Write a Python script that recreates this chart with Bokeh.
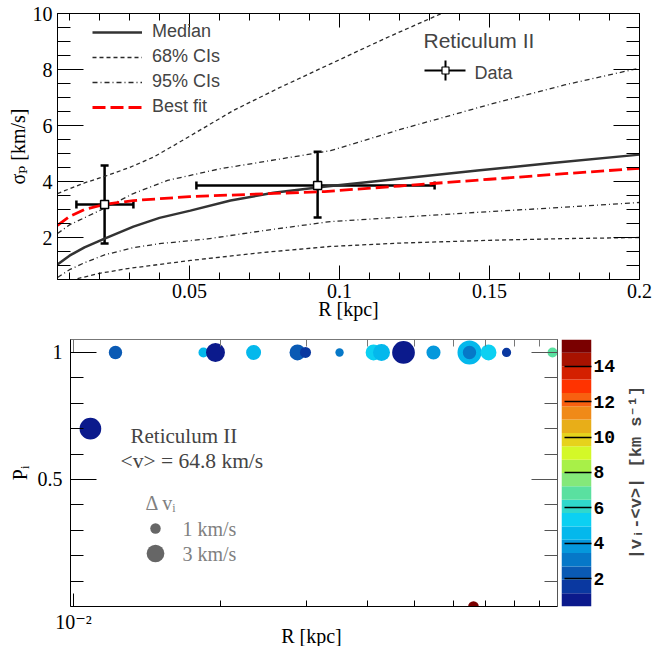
import numpy as np
from bokeh.plotting import figure
from bokeh.models import (ColumnDataSource, Range1d, LinearAxis, LogAxis, FixedTicker,
                          CustomJSTickFormatter, Whisker, TeeHead, Legend, LegendItem,
                          Label, LinearColorMapper, LinearScale)
from bokeh.layouts import column, row
from bokeh.embed import file_html
from bokeh.resources import INLINE

# ---------------- top panel: projected velocity dispersion ----------------
R_MED = [0.006, 0.01, 0.015, 0.0217, 0.0313, 0.04, 0.0503, 0.0637, 0.078, 0.094, 0.12, 0.146, 0.17, 0.2]
SIG_MED = [1.04, 1.35, 1.65, 1.96, 2.39, 2.70, 2.96, 3.32, 3.60, 3.80, 4.10, 4.39, 4.65, 4.96]
R_68U = [0.006, 0.015, 0.0217, 0.03, 0.038, 0.045, 0.0647, 0.08, 0.097, 0.115, 0.134, 0.15]
SIG_68U = [3.57, 3.95, 4.18, 4.50, 4.87, 5.30, 6.54, 7.35, 8.20, 9.10, 10.0, 10.7]
R_68L = [0.006, 0.0127, 0.02, 0.03, 0.0503, 0.075, 0.097, 0.12, 0.15, 0.175, 0.2]
SIG_68L = [0.30, 0.53, 0.72, 0.90, 1.18, 1.47, 1.68, 1.80, 1.90, 1.96, 2.00]
R_95U = [0.006, 0.01, 0.0217, 0.0313, 0.0427, 0.06, 0.08, 0.097, 0.12, 0.15, 0.175, 0.2]
SIG_95U = [2.14, 2.45, 3.05, 3.57, 4.04, 4.45, 4.80, 5.10, 5.85, 6.75, 7.45, 8.05]
R_95L = [0.006, 0.01, 0.015, 0.0217, 0.0313, 0.04, 0.056, 0.075, 0.097, 0.12, 0.146, 0.175, 0.2]
SIG_95L = [0.57, 0.85, 1.10, 1.38, 1.64, 1.78, 1.95, 2.25, 2.57, 2.72, 2.90, 3.08, 3.25]
R_FIT = [0.006, 0.01, 0.015, 0.0217, 0.0313, 0.05, 0.07, 0.095, 0.12, 0.15, 0.175, 0.2]
SIG_FIT = [2.43, 2.75, 3.00, 3.18, 3.32, 3.46, 3.54, 3.64, 3.84, 4.08, 4.28, 4.47]

R_DATA = [0.0217, 0.0927]
R_DATA_LO = [0.0123, 0.0523]
R_DATA_HI = [0.0313, 0.1317]
SIG_DATA = [3.18, 3.86]
SIG_DATA_LO = [1.79, 2.71]
SIG_DATA_HI = [4.57, 5.06]

X1_TICKS = [0.05, 0.1, 0.15, 0.2]
X1_MINOR = [0.01, 0.02, 0.03, 0.04, 0.06, 0.07, 0.08, 0.09, 0.11, 0.12, 0.13, 0.14,
            0.16, 0.17, 0.18, 0.19]
Y1_TICKS = [2, 4, 6, 8, 10]
Y1_MINOR = [1.0, 1.5, 2.5, 3.0, 3.5, 4.5, 5.0, 5.5, 6.5, 7.0, 7.5, 8.5, 9.0, 9.5]

# ---------------- bottom panel: member stars ----------------
R_STAR = [0.01083, 0.01219, 0.01846, 0.01954, 0.02339, 0.02877, 0.02988, 0.03509, 0.04120,
          0.04277, 0.04745, 0.05466, 0.06478, 0.06478, 0.07087, 0.07716, 0.09585, 0.06601]
P_STAR = [0.70, 1, 1, 1, 1, 1, 1, 1, 1, 1, 1, 1, 1, 1, 1, 1, 1, 0.0]
DV_ERR = [4.1, 1.8, 0.85, 3.35, 2.25, 2.5, 1.15, 0.4, 2.5, 2.8, 4.4, 2.0, 4.75, 1.8, 2.5,
          0.65, 0.85, 1.05]
DV_ABS = [0.8, 2.3, 4.6, 0.8, 4.6, 2.3, 1.55, 3.05, 5.3, 4.6, 0.8, 3.8, 4.6, 3.05, 5.3,
          1.55, 6.85, 15.1]
LEGEND_DV = [1, 3]

X2_TICKS = [0.01]
X2_MINOR = [0.02, 0.03, 0.04, 0.05, 0.06, 0.07, 0.08, 0.09]
Y2_TICKS = [0.5, 1.0]
Y2_MINOR = [0.1, 0.2, 0.3, 0.4, 0.6, 0.7, 0.8, 0.9]
CB_TICKS = [2, 4, 6, 8, 10, 12, 14]
CB_LOW, CB_HIGH = 0.42, 15.52

PALETTE = ["#0b1a8c", "#0a38a0", "#0a5ab4", "#0678c8", "#0598dc", "#04b8ec", "#0cd0f2",
           "#30d8cc", "#5ae0a0", "#84e87a", "#a8f048", "#d4f828", "#e6d21c", "#e8ae18",
           "#f08a18", "#f86010", "#ff3300", "#d42000", "#a81200", "#7a0000"]

SERIF = "Liberation Serif, DejaVu Serif, serif"
SANS = "Liberation Sans, Arial, sans-serif"
MONO = "Liberation Mono, DejaVu Sans Mono, monospace"


def style_axis(ax, major_in, minor_in, color="black", labels=True, font_px=20, standoff=5):
    ax.major_tick_in = major_in
    ax.major_tick_out = 0
    ax.minor_tick_in = minor_in
    ax.minor_tick_out = 0
    ax.axis_line_color = color
    ax.major_tick_line_color = color
    ax.minor_tick_line_color = color
    ax.major_label_text_font = SERIF
    ax.major_label_text_font_size = f"{font_px}px"
    ax.major_label_text_color = "black"
    ax.major_label_standoff = standoff
    ax.axis_label_text_font = SERIF
    ax.axis_label_text_font_style = "normal"
    ax.axis_label_text_font_size = "20px"
    ax.axis_label_text_color = "black"
    if not labels:
        ax.formatter = CustomJSTickFormatter(code="return ''")
        ax.major_label_text_font_size = "1px"
        ax.major_label_standoff = 0


# ======================= TOP FIGURE =======================
FW1, FH1 = 582, 266
p1 = figure(frame_width=FW1, frame_height=FH1, x_range=Range1d(0.006, 0.2),
            y_range=Range1d(0.5, 10.0), output_backend="svg", toolbar_location=None,
            min_border_left=57, min_border_right=13, min_border_top=13, min_border_bottom=47)
p1.grid.visible = False
p1.outline_line_color = "black"
p1.extra_x_ranges = {"px": Range1d(0, FW1)}
p1.extra_y_ranges = {"px": Range1d(0, FH1)}

xa = p1.xaxis[0]
xa.ticker = FixedTicker(ticks=X1_TICKS, minor_ticks=X1_MINOR)
xa.formatter = CustomJSTickFormatter(code="return String(tick)")
style_axis(xa, 14, 7, standoff=4)
xa.axis_label = "R [kpc]"
xa.axis_label_standoff = -3

ya = p1.yaxis[0]
ya.ticker = FixedTicker(ticks=Y1_TICKS, minor_ticks=Y1_MINOR)
style_axis(ya, 26, 13, standoff=5)
ya.axis_label = "σₚ [km/s]"
ya.axis_label_standoff = 1

top1 = LinearAxis(ticker=FixedTicker(ticks=X1_TICKS, minor_ticks=X1_MINOR))
style_axis(top1, 14, 7, labels=False)
p1.add_layout(top1, "above")
right1 = LinearAxis(ticker=FixedTicker(ticks=Y1_TICKS, minor_ticks=Y1_MINOR))
style_axis(right1, 26, 13, labels=False)
p1.add_layout(right1, "right")

dark = "#2a2a2a"
r_68u = p1.line(R_68U, SIG_68U, line_color=dark, line_width=1.3, line_dash="4 3")
r_68l = p1.line(R_68L, SIG_68L, line_color=dark, line_width=1.3, line_dash="4 3")
r_95u = p1.line(R_95U, SIG_95U, line_color=dark, line_width=1.3, line_dash="5 3 1 3")
r_95l = p1.line(R_95L, SIG_95L, line_color=dark, line_width=1.3, line_dash="5 3 1 3")
r_med = p1.line(R_MED, SIG_MED, line_color="#333333", line_width=2.5)
r_fit = p1.line(R_FIT, SIG_FIT, line_color="#ff0000", line_width=2.8, line_dash="13 5")

src1 = ColumnDataSource(dict(r=R_DATA, rlo=R_DATA_LO, rhi=R_DATA_HI,
                             s=SIG_DATA, slo=SIG_DATA_LO, shi=SIG_DATA_HI))
for dim, base, lo, hi in (("height", "r", "slo", "shi"), ("width", "s", "rlo", "rhi")):
    p1.add_layout(Whisker(source=src1, base=base, lower=lo, upper=hi, dimension=dim,
                          line_width=2.5, line_color="black",
                          upper_head=TeeHead(size=8, line_width=2.5),
                          lower_head=TeeHead(size=8, line_width=2.5)))
p1.scatter("r", "s", source=src1, marker="square", size=8, fill_color="white",
           line_color="black", line_width=1.5)

leg = Legend(items=[LegendItem(label="Median", renderers=[r_med]),
                    LegendItem(label="68% CIs", renderers=[r_68u]),
                    LegendItem(label="95% CIs", renderers=[r_95u]),
                    LegendItem(label="Best fit", renderers=[r_fit])],
             location=(35, 162), margin=0, padding=0, spacing=4, glyph_width=50,
             glyph_height=20, label_height=20, label_standoff=10,
             label_text_font=SANS, label_text_font_size="18px",
             background_fill_alpha=0, border_line_alpha=0)
p1.add_layout(leg)

p1.add_layout(Label(x=366, y=239, x_range_name="px", y_range_name="px", text="Reticulum II",
                    text_baseline="middle", text_font=SANS, text_font_size="21px"))
# legend key for the data points
p1.segment(x0=[367], y0=[209], x1=[408], y1=[209], x_range_name="px", y_range_name="px",
           line_color="black", line_width=2)
p1.segment(x0=[388], y0=[199], x1=[388], y1=[219], x_range_name="px", y_range_name="px",
           line_color="black", line_width=2)
p1.scatter(x=[388], y=[209], x_range_name="px", y_range_name="px", marker="square", size=7,
           fill_color="white", line_color="black", line_width=1.2)
p1.add_layout(Label(x=417, y=207, x_range_name="px", y_range_name="px", text="Data",
                    text_baseline="middle", text_font=SANS, text_font_size="18px"))

# ======================= BOTTOM FIGURE =======================
FW2, FH2 = 487, 267
p2 = figure(frame_width=FW2, frame_height=FH2, x_axis_type="log",
            x_range=Range1d(0.009859, 0.09813), y_range=Range1d(0.0, 1.051),
            output_backend="svg", toolbar_location=None,
            min_border_left=70, min_border_right=4, min_border_top=13, min_border_bottom=38)
p2.grid.visible = False
p2.outline_line_color = "#888888"
p2.extra_x_ranges = {"px": Range1d(0, FW2)}
p2.extra_y_ranges = {"px": Range1d(0, FH2)}
p2.extra_x_scales = {"px": LinearScale()}

sup_js = """
const e = Math.round(Math.log10(tick));
const m = {"-": "\\u207b", "0": "\\u2070", "1": "\\u00b9", "2": "\\u00b2", "3": "\\u00b3"};
return "10" + String(e).split("").map(c => m[c] ?? c).join("");
"""
xb = p2.xaxis[0]
xb.ticker = FixedTicker(ticks=X2_TICKS, minor_ticks=X2_MINOR)
xb.formatter = CustomJSTickFormatter(code=sup_js)
style_axis(xb, 13, 6, standoff=4)
xb.axis_label = "R  [kpc]"
xb.axis_label_standoff = -11

yb = p2.yaxis[0]
yb.ticker = FixedTicker(ticks=Y2_TICKS, minor_ticks=Y2_MINOR)
yb.formatter = CustomJSTickFormatter(code="return String(tick)")
style_axis(yb, 26, 13, standoff=8)
yb.axis_label = "Pᵢ"
yb.axis_label_standoff = 4

top2 = LogAxis(ticker=FixedTicker(ticks=X2_TICKS, minor_ticks=X2_MINOR))
style_axis(top2, 13, 7, color="#777777", labels=False)
p2.add_layout(top2, "above")
right2 = LinearAxis(ticker=FixedTicker(ticks=Y2_TICKS, minor_ticks=Y2_MINOR))
style_axis(right2, 26, 13, color="#555555", labels=False)
p2.add_layout(right2, "right")

mapper = LinearColorMapper(palette=PALETTE, low=CB_LOW, high=CB_HIGH)
sizes = 6.9 + 3.6 * np.array(DV_ERR)
src2 = ColumnDataSource(dict(r=R_STAR, p=P_STAR, size=sizes, dv=DV_ABS))
p2.scatter("r", "p", source=src2, size="size",
           fill_color={"field": "dv", "transform": mapper}, line_color=None)

p2.add_layout(Label(x=60, y=171, x_range_name="px", y_range_name="px", text="Reticulum II",
                    text_baseline="middle", text_font=SERIF, text_font_size="21px"))
p2.add_layout(Label(x=50, y=146, x_range_name="px", y_range_name="px",
                    text="<v> = 64.8 km/s", text_baseline="middle", text_font=SERIF,
                    text_font_size="21.5px"))
p2.add_layout(Label(x=75, y=104, x_range_name="px", y_range_name="px", text="Δ vᵢ",
                    text_baseline="middle", text_font=SERIF, text_font_size="20px",
                    text_color="#808080"))
p2.scatter(x=[85, 85], y=[78, 53], size=6.9 + 3.6 * np.array(LEGEND_DV),
           x_range_name="px", y_range_name="px", fill_color="#666666", line_color=None)
for yy, dv in zip([78, 53], LEGEND_DV):
    p2.add_layout(Label(x=112, y=yy, x_range_name="px", y_range_name="px",
                        text=f"{dv} km/s", text_baseline="middle", text_font=SERIF,
                        text_font_size="20px", text_color="#808080"))

# ======================= COLOUR SCALE (own narrow figure) =======================
edges = np.linspace(CB_LOW, CB_HIGH, len(PALETTE) + 1)
p3 = figure(frame_width=30, frame_height=FH2, x_range=Range1d(0, 1),
            y_range=Range1d(CB_LOW, CB_HIGH), output_backend="svg", toolbar_location=None,
            x_axis_location=None, y_axis_location="right",
            min_border_left=0, min_border_right=26, min_border_top=13, min_border_bottom=38)
p3.grid.visible = False
p3.outline_line_color = None
p3.quad(left=0, right=1, bottom=edges[:-1], top=edges[1:], fill_color=PALETTE,
        line_color=None)
ca = p3.yaxis[0]
ca.ticker = FixedTicker(ticks=CB_TICKS, minor_ticks=[])
ca.axis_line_color = None
ca.major_tick_in = 27
ca.major_tick_out = 0
ca.minor_tick_line_color = None
ca.major_tick_line_color = "black"
ca.major_tick_line_width = 1.3
ca.major_label_standoff = 2
ca.major_label_text_font = MONO
ca.major_label_text_font_style = "bold"
ca.major_label_text_font_size = "18px"
ca.major_label_text_color = "black"

# colour-scale title in its own strip, so it is never clipped
p4 = figure(frame_width=35, frame_height=FH2, x_range=Range1d(0, 35), y_range=Range1d(0, FH2),
            output_backend="svg", toolbar_location=None, x_axis_location=None,
            y_axis_location=None, min_border_left=0, min_border_right=0,
            min_border_top=13, min_border_bottom=38)
p4.grid.visible = False
p4.outline_line_color = None
p4.add_layout(Label(x=18, y=139, text="|vᵢ-<v>|  [km s⁻¹]", angle=90, angle_units="deg",
                    text_align="center", text_baseline="middle", text_font=MONO,
                    text_font_style="bold", text_font_size="17px"))

layout = column(p1, row(p2, p3, p4, spacing=0), spacing=0)
open("out.html", "w").write(file_html(layout, INLINE))
